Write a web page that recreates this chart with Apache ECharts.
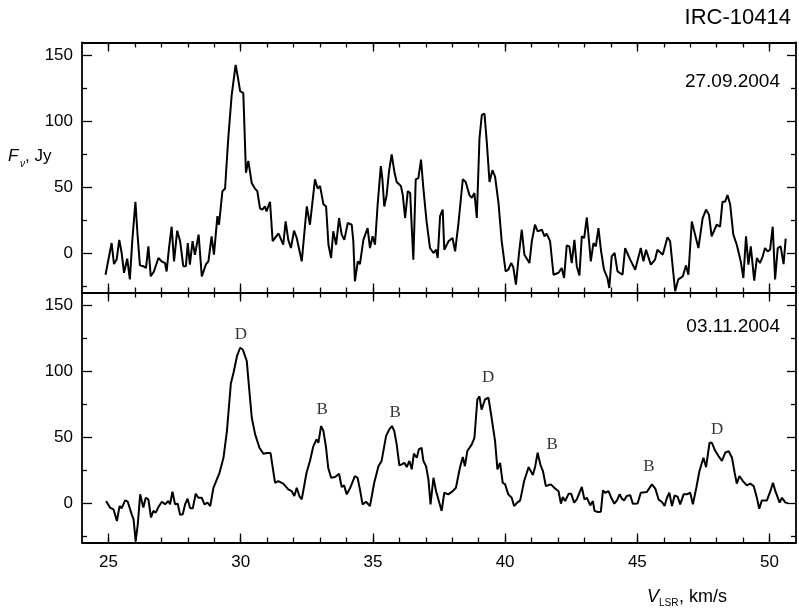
<!DOCTYPE html>
<html><head><meta charset="utf-8">
<script src="https://cdn.jsdelivr.net/npm/echarts@6/dist/echarts.min.js"></script>
<style>html,body{margin:0;padding:0;background:#fff}#c{width:799px;height:610px}</style>
</head><body><div id="c"></div>
<script>
// ---- data ----
const topV = [24.89,25.12,25.21,25.31,25.41,25.5,25.59,25.71,25.81,25.9,26.02,26.1,26.19,26.32,26.42,26.51,26.6,26.72,26.89,27.01,27.14,27.2,27.29,27.39,27.48,27.6,27.71,27.83,27.93,28.0,28.08,28.18,28.27,28.34,28.41,28.53,28.69,28.78,28.9,28.99,29.12,29.18,29.31,29.41,29.53,29.66,29.81,29.89,29.98,30.1,30.2,30.29,30.42,30.54,30.63,30.73,30.82,30.92,30.98,31.11,31.21,31.43,31.61,31.7,31.8,31.9,32.02,32.12,32.31,32.5,32.62,32.81,32.91,33.0,33.13,33.23,33.32,33.42,33.5,33.61,33.72,33.82,33.92,34.05,34.2,34.26,34.32,34.43,34.51,34.64,34.8,34.89,34.99,35.08,35.18,35.3,35.36,35.43,35.52,35.61,35.71,35.81,35.9,36.06,36.13,36.22,36.32,36.41,36.47,36.53,36.62,36.72,36.82,36.91,37.03,37.16,37.29,37.39,37.45,37.54,37.64,37.7,37.86,38.01,38.11,38.23,38.4,38.51,38.65,38.74,38.84,38.93,39.03,39.12,39.22,39.31,39.41,39.52,39.62,39.75,39.87,40.02,40.12,40.23,40.31,40.41,40.52,40.63,40.73,40.92,41.01,41.13,41.23,41.39,41.49,41.57,41.7,41.83,42.02,42.14,42.23,42.33,42.43,42.52,42.62,42.71,42.81,42.9,42.99,43.09,43.18,43.24,43.34,43.43,43.53,43.63,43.74,43.87,43.94,44.03,44.14,44.25,44.44,44.54,44.73,44.92,45.13,45.23,45.33,45.51,45.67,45.76,45.96,46.14,46.24,46.43,46.55,46.72,46.84,46.93,47.06,47.12,47.31,47.47,47.6,47.71,47.81,48.0,48.13,48.22,48.32,48.41,48.51,48.63,48.76,48.91,49.01,49.11,49.2,49.29,49.42,49.52,49.64,49.74,49.83,49.93,50.02,50.12,50.21,50.31,50.42,50.53,50.61];
const topF = [-16.5,7.6,-8.4,-5,10,0,-15,-4.3,-20,9,39,14,-9.4,-10,-11.4,5,-17.7,-14,-3.8,-6.3,-7.6,-14,3.8,20,-6.3,17,9,-10,-10,7.6,-8.9,9,-1.3,6.3,14,-17.7,-8.4,-6.3,12.7,-1.3,28,21.5,47,49,87,120,143,134,123,121.5,61,70,53,49,47,34,33,35.4,31.6,39,9,15,6.3,24,10,3.8,17,11.4,-6.3,35.4,21.5,56,49,51,37,35.4,6.3,-3.8,16.5,6.3,26.6,14,10,22.8,21.5,9,-21.5,-6.3,-8.4,10,19,3.8,12.7,6.3,37,66,56,35.4,44,62,75,62,54,51,44,26.6,47,45.6,19,-5,56,57,71,49,24,3.8,0,2.5,-3.8,28,33,2.5,9,11.4,1.3,21.5,56,54,44,42,45.6,26.6,87,105,106,83.5,54,63,58,38,9,-14,-12.7,-7.6,-10.9,-24,-1.3,17.7,-1.3,-7.6,9,21.5,16.5,17.7,12.7,14.7,9,-16.5,-15,-11.4,-19,5.8,5,-7.6,10,-10,-17,12.7,11.4,27,7.6,-6.3,7.6,5,19,1.3,-12.7,-19,-26.6,-2.5,0,-14,-16.5,3.8,-5,-12.7,3.8,-6.3,2.5,-8.9,-5,2.5,-1.3,12,9,-29,-20,-17.7,-9.4,-16.5,24,25,3.8,26.6,33,29,12.7,21.5,20,39,39,44,37,14,6.3,-6.3,-19,12.7,-8.9,5,-21,-3.8,-7.6,-2.5,3.8,1.3,2.5,20,-20,3.8,5,-8.4,11];

const botV = [24.91,25.06,25.19,25.32,25.42,25.5,25.63,25.73,25.88,25.95,26.03,26.11,26.2,26.32,26.41,26.51,26.61,26.7,26.79,26.89,27.02,27.14,27.27,27.33,27.42,27.52,27.62,27.71,27.81,27.9,27.99,28.09,28.19,28.3,28.4,28.53,28.63,28.75,28.85,28.97,29.2,29.35,29.48,29.63,29.73,29.86,29.98,30.08,30.23,30.33,30.42,30.55,30.71,30.86,30.99,31.13,31.3,31.42,31.61,31.8,31.93,32.03,32.12,32.22,32.31,32.49,32.62,32.75,32.87,32.94,33.04,33.13,33.23,33.31,33.42,33.57,33.72,33.82,33.91,34.01,34.13,34.32,34.42,34.51,34.61,34.74,34.89,35.05,35.21,35.33,35.5,35.62,35.72,35.81,35.9,36.0,36.09,36.19,36.28,36.38,36.47,36.55,36.66,36.74,36.84,36.91,37.01,37.1,37.18,37.29,37.39,37.6,37.7,37.85,38.02,38.14,38.29,38.4,38.48,38.57,38.74,38.84,38.95,39.03,39.11,39.24,39.37,39.47,39.62,39.71,39.81,39.91,40.0,40.12,40.25,40.34,40.46,40.57,40.72,40.89,41.05,41.14,41.23,41.33,41.43,41.54,41.73,41.89,42.02,42.11,42.18,42.27,42.4,42.5,42.61,42.71,42.9,43.0,43.09,43.22,43.32,43.38,43.5,43.62,43.7,43.78,43.91,44.0,44.13,44.23,44.33,44.42,44.5,44.6,44.73,44.83,45.01,45.13,45.36,45.55,45.68,45.8,45.93,46.03,46.12,46.21,46.31,46.41,46.53,46.62,46.75,46.87,47.0,47.1,47.23,47.35,47.5,47.6,47.73,47.82,47.95,48.07,48.2,48.32,48.45,48.58,48.68,48.76,48.86,48.99,49.14,49.27,49.4,49.52,49.61,49.71,49.9,50.03,50.13,50.22,50.38,50.47,50.6,50.7];
const botF = [1.5,-3.5,-4.8,-13.7,-2.3,-4,2,1,-8.6,-12.4,-29,-16,6.6,-3.5,4,2.8,-11,-6,-7.3,-3,1,-1,1.5,-1,8.6,-1,-0.5,-9,-8.6,-1,3.3,-4,-4,7,4,4,-1,0.3,-2.3,11.6,23,34.4,54.7,91,99,111.6,118,116.7,108,85,64.8,52,42,37.5,38,38,15.4,16.7,14.7,10.4,9,5.3,11.6,5.3,2.8,23,32,43.3,48.4,45.8,58.5,54.7,42,26.8,19.2,19.7,22.3,12.2,13.4,6.6,11,20.5,19.2,10.4,-1,1,-2.3,15.4,28,32,51,56,58.5,54.7,44.6,28.6,29.4,30.6,27.3,32,25.6,37.5,34.4,40.8,42,32,28,18,-1,19.2,9,-6,7.8,6.6,9,11.6,26.8,35,28,39.5,44.6,49.6,78.7,81,71,78.7,80,67.3,47,25.6,30.6,15.4,14.2,6.6,4,-2.3,0.3,2,16.7,27.3,21.3,28,38.2,29.4,24.3,12.9,14.2,11,9,-0.5,4.6,1.5,7,7,0.3,2.8,12.2,2.8,4,-1.8,1.5,-6,-6.8,-6.6,9.6,7.8,9,4.6,-0.5,2,6.6,3.3,2,5.3,6,-0.5,-0.3,7.8,8.4,14.2,11,2.8,0.8,-2.3,4,7.8,-2.3,5.8,4.6,-1,6.6,6.6,7.8,-1,11.6,24.3,34.4,27.3,45.8,45.8,39.5,35.7,32,38.2,39.5,34.4,23,14.7,20.5,16.7,13.4,14.7,12.9,4,-4.3,2,2,9,15.4,9,0.3,4,0.3,0];

const markV = [30.01, 33.08, 35.84, 39.36, 41.78, 45.44, 48.02];
const markF = [128.4, 71.4, 69.1, 95.7, 44.8, 27.4, 55.5];
const markText = ['D','B','B','D','B','B','D'];

const xMajorTicks = [25,30,35,40,45,50];
const xMinorTicks = [25,26,27,28,29,30,31,32,33,34,35,36,37,38,39,40,41,42,43,44,45,46,47,48,49,50];
const yMajorTicks = [0,50,100,150];
const yMinorTicks = [-25,25,75,125];

// ---- chart ----
const X_MIN = 24, X_MAX = 51, Y_MIN = -30, Y_MAX = 160;
const black = '#000';
const lineSt = {color: black, width: 1.8};
const tickSt = {color: black, width: 1.3};
const font = 'Liberation Sans, Arial, sans-serif';

function zip(a, b) { return a.map((v, i) => [v, b[i]]); }

function xAxesFor(g, labels) {
  const base = {gridIndex: g, type: 'value', min: X_MIN, max: X_MAX, splitLine: {show: false}};
  return [
    Object.assign({}, base, {position: 'bottom', axisLine: {show: true, onZero: false, lineStyle: lineSt},
      axisTick: {show: true, inside: true, length: 9, customValues: xMajorTicks, lineStyle: tickSt},
      axisLabel: {show: labels, customValues: xMajorTicks, color: black, fontSize: 17, fontFamily: font, margin: 11}}),
    Object.assign({}, base, {position: 'bottom', axisLine: {show: false, onZero: false},
      axisTick: {show: true, inside: true, length: 5, customValues: xMinorTicks, lineStyle: tickSt},
      axisLabel: {show: false}}),
    Object.assign({}, base, {position: 'top', axisLine: {show: true, onZero: false, lineStyle: lineSt},
      axisTick: {show: true, inside: true, length: 9, customValues: xMajorTicks, lineStyle: tickSt},
      axisLabel: {show: false}}),
    Object.assign({}, base, {position: 'top', axisLine: {show: false, onZero: false},
      axisTick: {show: true, inside: true, length: 5, customValues: xMinorTicks, lineStyle: tickSt},
      axisLabel: {show: false}})
  ];
}
function yAxesFor(g) {
  const base = {gridIndex: g, type: 'value', min: Y_MIN, max: Y_MAX, splitLine: {show: false}};
  return [
    Object.assign({}, base, {position: 'left', axisLine: {show: true, onZero: false, lineStyle: lineSt},
      axisTick: {show: true, inside: true, length: 10, customValues: yMajorTicks, lineStyle: tickSt},
      axisLabel: {show: true, customValues: yMajorTicks, color: black, fontSize: 17, fontFamily: font, margin: 9}}),
    Object.assign({}, base, {position: 'left', axisLine: {show: false, onZero: false},
      axisTick: {show: true, inside: true, length: 5, customValues: yMinorTicks, lineStyle: tickSt},
      axisLabel: {show: false}}),
    Object.assign({}, base, {position: 'right', axisLine: {show: true, onZero: false, lineStyle: lineSt},
      axisTick: {show: true, inside: true, length: 9, customValues: yMajorTicks, lineStyle: tickSt},
      axisLabel: {show: false}}),
    Object.assign({}, base, {position: 'right', axisLine: {show: false, onZero: false},
      axisTick: {show: true, inside: true, length: 5, customValues: yMinorTicks, lineStyle: tickSt},
      axisLabel: {show: false}})
  ];
}

const chart = echarts.init(document.getElementById('c'), null, {renderer: 'canvas'});

chart.setOption({
  animation: false,
  backgroundColor: '#fff',
  grid: [
    {left: 82, top: 42.5, width: 714, height: 250},
    {left: 82, top: 292.5, width: 714, height: 250}
  ],
  xAxis: xAxesFor(0, false).concat(xAxesFor(1, true)),
  yAxis: yAxesFor(0).concat(yAxesFor(1)),
  series: [
    {type: 'line', xAxisIndex: 0, yAxisIndex: 0, data: zip(topV, topF), showSymbol: false, symbol: 'none',
     lineStyle: {color: black, width: 2}, itemStyle: {color: black}, clip: true},
    {type: 'line', xAxisIndex: 4, yAxisIndex: 4, data: zip(botV, botF), showSymbol: false, symbol: 'none',
     lineStyle: {color: black, width: 2}, itemStyle: {color: black}, clip: true},
    {type: 'scatter', xAxisIndex: 4, yAxisIndex: 4, symbolSize: 1, itemStyle: {color: 'rgba(0,0,0,0)'},
     data: markV.map((v, i) => [v, markF[i], markText[i]]),
     label: {show: true, position: 'inside', formatter: p => p.data[2], color: black, fontSize: 17,
             fontFamily: 'Liberation Serif, Times New Roman, serif'}}
  ],
  graphic: [
    {type: 'text', silent: true, x: 791, y: 18, style: {text: 'IRC-10414', fill: black, fontFamily: font, fontSize: 22, align: 'right', verticalAlign: 'middle'}},
    {type: 'text', silent: true, x: 780, y: 82, style: {text: '27.09.2004', fill: black, fontFamily: font, fontSize: 19, align: 'right', verticalAlign: 'middle'}},
    {type: 'text', silent: true, x: 780, y: 327, style: {text: '03.11.2004', fill: black, fontFamily: font, fontSize: 19, align: 'right', verticalAlign: 'middle'}},
    {type: 'text', silent: true, x: 8, y: 156, style: {text: 'F', fill: black, fontFamily: font, fontSize: 17, fontStyle: 'italic', align: 'left', verticalAlign: 'middle'}},
    {type: 'text', silent: true, x: 20, y: 164, style: {text: 'ν', fill: black, fontFamily: font, fontSize: 10, fontStyle: 'italic', align: 'left', verticalAlign: 'middle'}},
    {type: 'text', silent: true, x: 25, y: 156, style: {text: ', Jy', fill: black, fontFamily: font, fontSize: 17, align: 'left', verticalAlign: 'middle'}},
    {type: 'text', silent: true, x: 647, y: 597, style: {text: 'V', fill: black, fontFamily: font, fontSize: 18, fontStyle: 'italic', align: 'left', verticalAlign: 'middle'}},
    {type: 'text', silent: true, x: 659, y: 603, style: {text: 'LSR', fill: black, fontFamily: font, fontSize: 10, align: 'left', verticalAlign: 'middle'}},
    {type: 'text', silent: true, x: 679, y: 597, style: {text: ', km/s', fill: black, fontFamily: font, fontSize: 18, align: 'left', verticalAlign: 'middle'}}
  ]
});
</script>
</body></html>
